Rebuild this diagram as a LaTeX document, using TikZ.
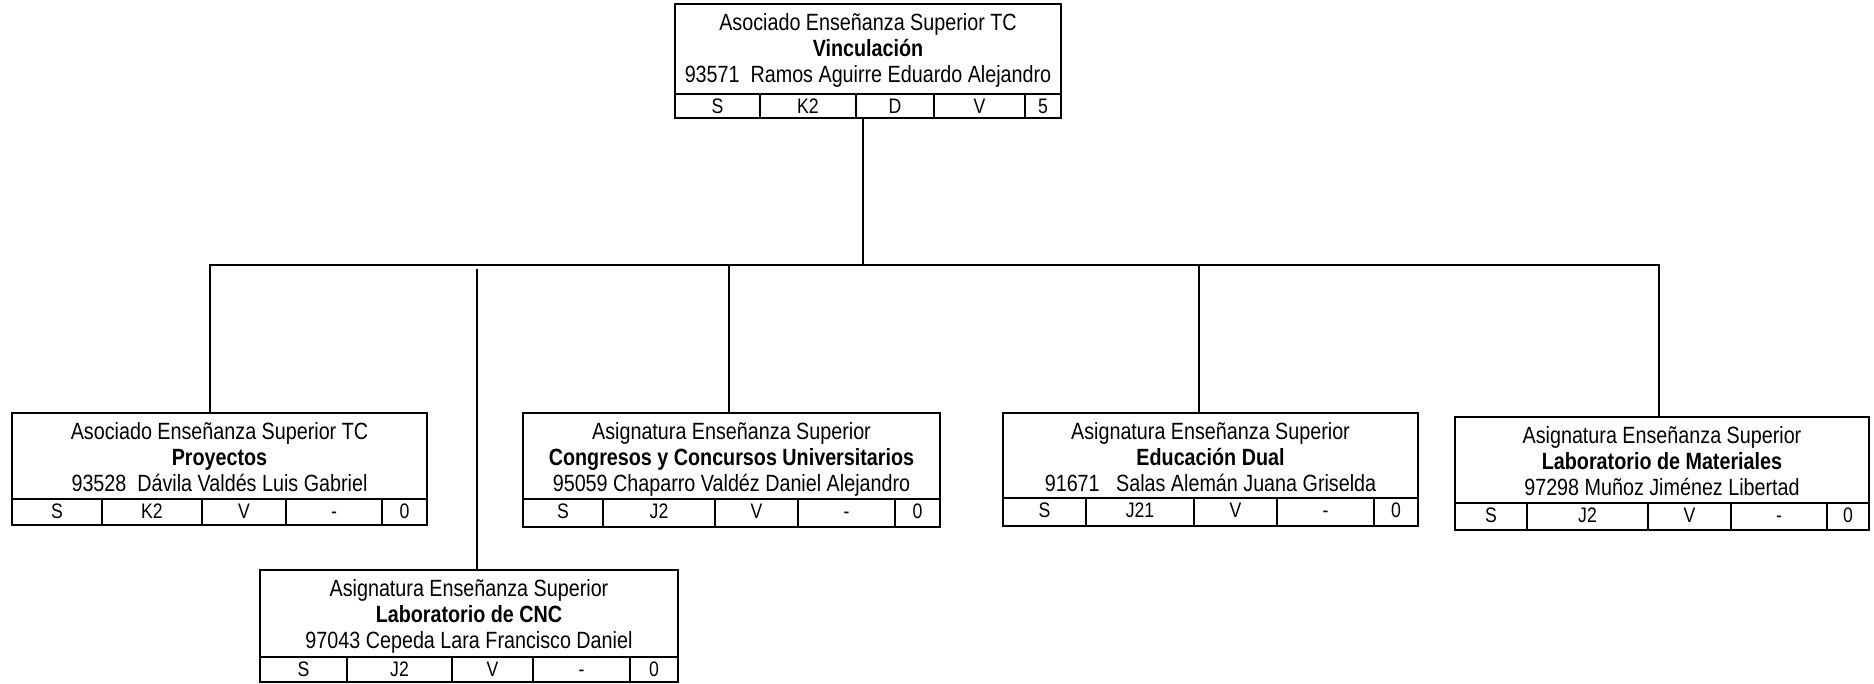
\documentclass[tikz,border=0pt]{standalone}
\usepackage{fontspec}
\setmainfont{Liberation Sans}[FakeStretch=0.84]
\tikzset{
  boxframe/.style={draw=black, line width=2.5pt, inner sep=0pt, outer sep=0pt, rectangle},
  sepline/.style={draw=black, line width=2pt},
  conn/.style={draw=black, line width=1.6pt},
  headtext/.style={inner sep=0pt, anchor=base, font=\fontsize{23.5}{25}\selectfont},
  celltext/.style={inner sep=0pt, anchor=base, font=\fontsize{21}{24}\selectfont},
}
\newcommand\orgbox[8]{%
  \node[boxframe, anchor=north west, minimum width={(#4)-(#2)}, minimum height={(#6)-(#3)}] (#1) at (#2,#3) {};
  \draw[sepline] (#2,#5) -- (#4,#5);
  \foreach \a/\b/\t [count=\i] in {#7} {
    \ifnum\i>1 \draw[sepline] (\a,#5) -- (\a,#6);\fi
    \node[celltext] (#1-c\i) at ({(\a+\b)/2},{#5+19}) {\t};
  }
  \foreach \t [count=\i] in {#8} {
    \node[headtext] (#1-l\i) at ({(#2+#4)/2},{#3+26*\i}) {\t};
  }
}
\begin{document}
\begin{tikzpicture}[x=1pt,y=-1pt]
\useasboundingbox (0,0) rectangle (1874,683);
\orgbox{top}{675}{4}{1061}{94}{118}{675/760/S,760/856/K2,856/934/D,934/1025/V,1025/1061/5}{Asociado Enseñanza Superior TC,\textbf{Vinculación},93571\ \ Ramos Aguirre Eduardo Alejandro}
\orgbox{b1}{12}{413}{427}{499}{525}{12/102/S,102/202/K2,202/286/V,286/382/-,382/427/0}{Asociado Enseñanza Superior TC,\textbf{Proyectos},93528\ \ Dávila Valdés Luis Gabriel}
\orgbox{b2}{260}{570}{678}{657}{682}{260/347/S,347/452/J2,452/533/V,533/630/-,630/678/0}{Asignatura Enseñanza Superior,\textbf{Laboratorio de CNC},97043 Cepeda Lara Francisco Daniel}
\orgbox{b3}{523}{413}{940}{499}{527}{523/603/S,603/715/J2,715/798/V,798/895/-,895/940/0}{Asignatura Enseñanza Superior,\textbf{Congresos y Concursos Universitarios},95059 Chaparro Valdéz Daniel Alejandro}
\orgbox{b4}{1003}{413}{1418}{498}{526}{1003/1086/S,1086/1194/J21,1194/1277/V,1277/1374/-,1374/1418/0}{Asignatura Enseñanza Superior,\textbf{Educación Dual},91671\ \ \ Salas Alemán Juana Griselda}
\orgbox{b5}{1455}{417}{1869}{503}{530}{1455/1527/S,1527/1648/J2,1648/1731/V,1731/1827/-,1827/1869/0}{Asignatura Enseñanza Superior,\textbf{Laboratorio de Materiales},97298 Muñoz Jiménez Libertad}
\coordinate (jt) at (863,265);
\coordinate (j1) at (210,265);
\coordinate (j2) at (477,269);
\coordinate (j3) at (729,265);
\coordinate (j4) at (1199,265);
\coordinate (j5) at (1659,265);
\draw[conn] (top.south -| jt) -- (jt);
\draw[conn] (b1.north -| j1) -- (j1) -- (j5) -- (b5.north -| j5);
\draw[conn] (j3) -- (b3.north -| j3);
\draw[conn] (j4) -- (b4.north -| j4);
\draw[conn] (j2) -- (b2.north -| j2);
\end{tikzpicture}
\end{document}
